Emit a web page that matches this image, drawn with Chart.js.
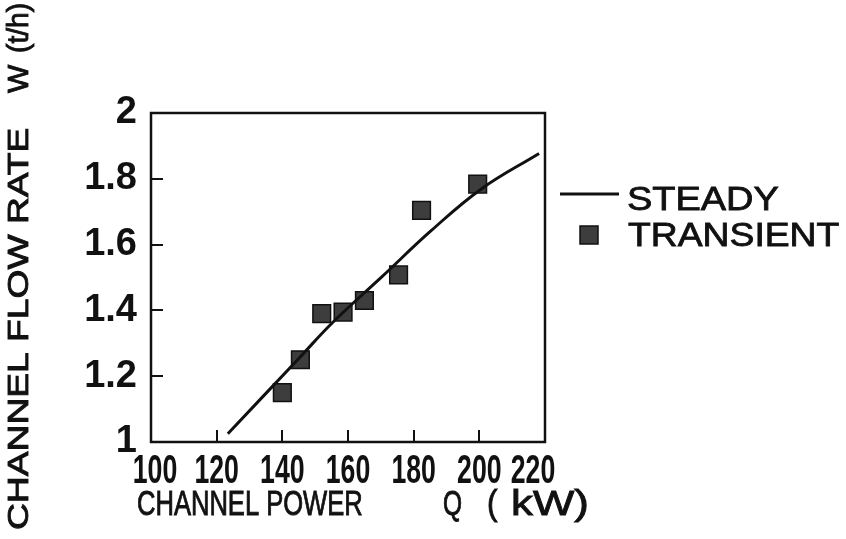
<!DOCTYPE html>
<html lang="en">
<head>
<meta charset="UTF-8">
<title>Channel flow rate vs channel power</title>
<script src="https://cdn.jsdelivr.net/npm/chart.js"></script>
<style>
  html, body { margin: 0; padding: 0; background: #fff; }
  #flowChart { display: block; }
</style>
</head>
<body>
<canvas id="flowChart" width="846" height="539"></canvas>
<script>
// steady-state curve
const steadyPower = [123.4, 145.3, 155.4, 170.2, 185.4, 200.7, 218.2];
const steadyFlow  = [1.025, 1.257, 1.364, 1.501, 1.643, 1.770, 1.877];

// transient points
const transientPower = [140, 145.5, 152, 158.5, 165, 175.4, 182.4, 199.5];
const transientFlow  = [1.15, 1.25, 1.39, 1.395, 1.43, 1.508, 1.704, 1.784];

const xTicks = [100, 120, 140, 160, 180, 200, 220];
const yTicks = [1, 1.2, 1.4, 1.6, 1.8, 2];

const legendLabels = ['STEADY', 'TRANSIENT'];
const xTitle = ['CHANNEL POWER', 'Q', '(', 'kW)'];
const yTitle = ['CHANNEL FLOW RATE', 'W', '(t/h)'];

const INK = '#111';
const MARK = '#3d3d3d';

// draw text squeezed / stretched horizontally (the scanned figure mixes font widths)
function stretchText(ctx, str, x, y, size, sx, opts) {
  opts = opts || {};
  ctx.save();
  ctx.translate(x, y);
  if (opts.rot) ctx.rotate(opts.rot);
  ctx.scale(sx, 1);
  ctx.font = (opts.weight || 'normal') + ' ' + size + 'px "Liberation Sans", Arial, sans-serif';
  ctx.textAlign = opts.align || 'left';
  ctx.textBaseline = 'alphabetic';
  ctx.fillStyle = INK;
  ctx.fillText(str, 0, 0);
  if (opts.heavy) {
    ctx.strokeStyle = INK;
    ctx.lineWidth = opts.heavy;
    ctx.strokeText(str, 0, 0);
  }
  ctx.restore();
}

const framePlugin = {
  id: 'frame',
  beforeDatasetsDraw(chart) {
    const { ctx, chartArea: a } = chart;
    ctx.save();
    ctx.strokeStyle = INK;
    ctx.lineWidth = 2.5;
    ctx.strokeRect(a.left, a.top, a.right - a.left, a.bottom - a.top);
    ctx.restore();
  }
};

const textPlugin = {
  id: 'texts',
  afterDraw(chart) {
    const ctx = chart.ctx;
    const xs = chart.scales.x;

    // x tick labels: tall condensed digits
    xTicks.forEach(v => {
      let cx = xs.getPixelForValue(v);
      cx = Math.min(Math.max(cx, 155), 533);
      stretchText(ctx, String(v), cx, 483, 41, 0.65, { weight: 'bold', align: 'center' });
    });

    // x axis title
    stretchText(ctx, xTitle[0], 137, 515, 35, 0.73, { heavy: 0.9 });
    stretchText(ctx, xTitle[1], 443, 515, 35, 0.7, { heavy: 0.9 });
    stretchText(ctx, xTitle[2], 487, 515, 35, 0.9, { heavy: 0.9 });
    stretchText(ctx, xTitle[3], 511, 515, 35, 1.25, { heavy: 0.9 });
    // y axis title, reads bottom to top
    const up = -Math.PI / 2;
    stretchText(ctx, yTitle[0], 28, 530, 30, 1.24, { rot: up, heavy: 0.9 });
    stretchText(ctx, yTitle[1], 28, 93, 30, 1.0, { rot: up, heavy: 0.9 });
    stretchText(ctx, yTitle[2], 28, 53, 30, 0.94, { rot: up, heavy: 0.9 });

    // legend
    ctx.save();
    ctx.strokeStyle = INK;
    ctx.lineWidth = 3;
    ctx.beginPath();
    ctx.moveTo(560, 194);
    ctx.lineTo(619, 194);
    ctx.stroke();
    ctx.fillStyle = MARK;
    ctx.lineWidth = 1.5;
    ctx.fillRect(580, 226, 18, 18);
    ctx.strokeRect(580, 226, 18, 18);
    ctx.restore();
    stretchText(ctx, legendLabels[0], 627, 210, 33, 1.15, { heavy: 0.8 });
    stretchText(ctx, legendLabels[1], 628, 246, 33, 1.13, { heavy: 0.8 });
  }
};

const ctx = document.getElementById('flowChart').getContext('2d');
const flowChart = new Chart(ctx, {
  type: 'scatter',
  data: {
    datasets: [
      {
        label: legendLabels[0],
        data: steadyPower.map((x, i) => ({ x: x, y: steadyFlow[i] })),
        showLine: true,
        borderColor: INK,
        borderWidth: 3,
        pointRadius: 0,
        tension: 0.4
      },
      {
        label: legendLabels[1],
        data: transientPower.map((x, i) => ({ x: x, y: transientFlow[i] })),
        pointStyle: 'rect',
        pointRadius: 12.5,
        backgroundColor: MARK,
        borderColor: INK,
        borderWidth: 1.5
      }
    ]
  },
  options: {
    responsive: false,
    animation: false,
    devicePixelRatio: 1,
    layout: { padding: { top: 113, right: 301, bottom: 0, left: 0 } },
    plugins: { legend: { display: false }, tooltip: { enabled: false } },
    scales: {
      x: {
        type: 'linear',
        min: 100,
        max: 220,
        afterBuildTicks: s => { s.ticks = xTicks.map(v => ({ value: v })); },
        afterFit: s => { s.height = 97; },
        border: { display: false },
        grid: { drawOnChartArea: false, drawTicks: true, tickLength: -12, color: INK, lineWidth: 2 },
        ticks: { display: false }
      },
      y: {
        type: 'linear',
        min: 1,
        max: 2,
        afterBuildTicks: s => { s.ticks = yTicks.map(v => ({ value: v })); },
        afterFit: s => { s.width = 151; },
        border: { display: false },
        grid: { drawOnChartArea: false, drawTicks: true, tickLength: -12, color: INK, lineWidth: 2 },
        ticks: {
          padding: 26,
          color: INK,
          autoSkip: false,
          callback: v => String(+v.toFixed(1)),
          font: { family: '"Liberation Sans", Arial, sans-serif', weight: 'bold', size: 38 }
        }
      }
    }
  },
  plugins: [framePlugin, textPlugin]
});
</script>
</body>
</html>
